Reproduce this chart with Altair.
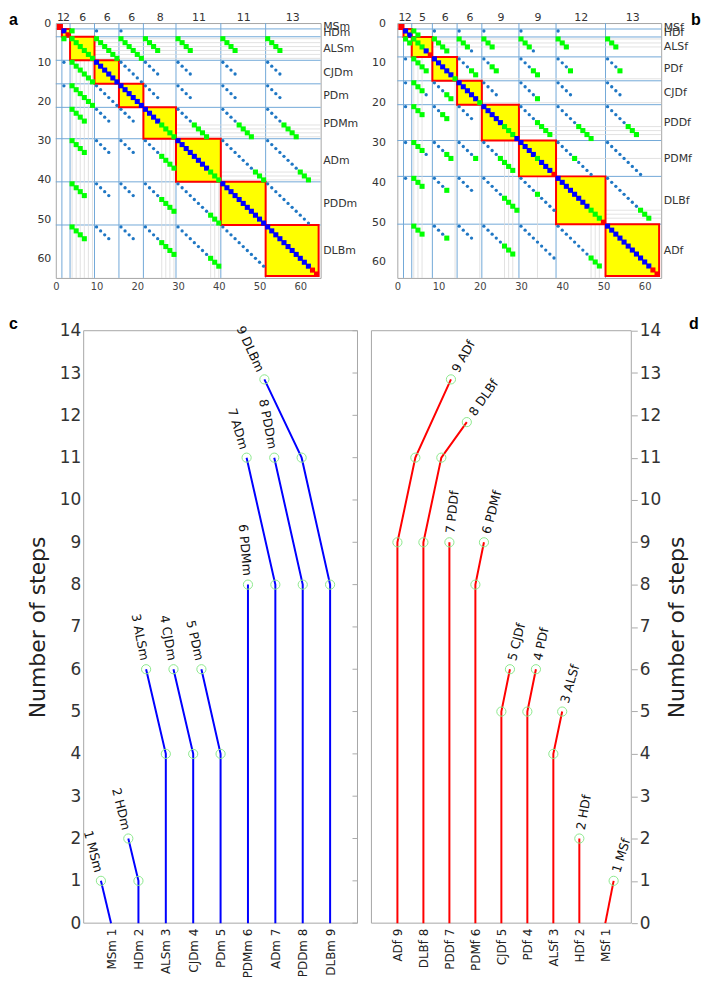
import json
import altair as alt
import pandas as pd

FONT = "DejaVu Sans"
LFONT = "Liberation Sans"

# ---------------- panel a (male) ----------------
a_groups = ["MSm", "HDm", "ALSm", "CJDm", "PDm", "PDMm", "ADm", "PDDm", "DLBm"]
a_sizes = [1, 2, 6, 6, 6, 8, 11, 11, 13]
a_diag = ["R", "BR", "GGGGGG", "BBBBBB", "BBBBBB", "BBBBGGGG",
          "BBBBBBBBGGG", "BBBBBBBBBBB", "BBBBBBBBBBBRR"]
a_link_row = [1, 1, 1, 2, 2, 2, 2, 2, 2, 3, 3, 3, 3, 3, 4, 4, 4, 4, 5, 5, 5, 6, 6, 7]
a_link_col = [2, 3, 4, 3, 4, 5, 6, 7, 8, 4, 5, 6, 7, 8, 5, 6, 7, 8, 6, 7, 8, 7, 8, 8]
a_link_pat = ["G", "B", "B",
              "GGGGGG", "GGGGGG", "GGGG", "GGGG", "GGGG", "GGGG",
              "BBBBBB", "BBBB", "BBBB", "BBBB", "BBBB",
              "BBBB", "BBBB", "BBBB", "BBBB",
              "BBBBGGGG", "BBBBGGGG", "BBBBGGGG",
              "BBBBBBBBGGG", "BBBBBBBBGGG",
              "BBBBBBBBBBB"]

# ---------------- panel b (female) ----------------
b_groups = ["MSf", "HDf", "ALSf", "PDf", "CJDf", "PDDf", "PDMf", "DLBf", "ADf"]
b_sizes = [1, 2, 5, 6, 6, 9, 9, 12, 13]
b_diag = ["R", "BB", "GGGBR", "BBBBBG", "BBBBBG", "BBBBBGGGB", "BBBBGBBBR",
          "BBBBBBBBGGGR", "BBBBBBBBBBBRR"]
b_link_row = [1, 1, 1, 1, 1, 1, 2, 2, 2, 2, 2, 2, 3, 3, 3, 3, 3, 4, 4, 4, 4, 5, 5, 5, 6, 6, 7]
b_link_col = [2, 3, 4, 5, 6, 7, 3, 4, 5, 6, 7, 8, 4, 5, 6, 7, 8, 5, 6, 7, 8, 6, 7, 8, 7, 8, 8]
b_link_pat = ["GG", "B", "B", "B", "B", "B",
              "GGGG", "GGGB", "GGG", "GGGB", "GGG", "GGG",
              "BBBGG", "BBGG", "BBBGG", "BBBG", "BBBG",
              "BBBB", "BBBBG", "BBBB", "BBBB",
              "BBBBGGGG", "BBBBBGGGG", "BBBBBGGG",
              "BBBBGBBBB", "BBBBBBBBB",
              "BBBBBBBBGGG"]

# ---------------- panel c (male steps) ----------------
c_names = ["MSm", "HDm", "ALSm", "CJDm", "PDm", "PDMm", "ADm", "PDDm", "DLBm"]
c_x = [[1, 0.63], [2, 2, 1.63], [3, 3, 2.28], [4, 4, 3.28], [5, 5, 4.3],
       [6, 6], [7, 7, 5.95], [8, 8, 6.96], [9, 9, 7.96, 6.6]]
c_y = [[0, 1], [0, 1, 2], [0, 4, 6], [0, 4, 6], [0, 4, 6],
       [0, 8], [0, 8, 11], [0, 8, 11], [0, 8, 11, 12.85]]
c_label_angle = [75, 76, 79, 80, 77, 85, 73, 79, 65]

# ---------------- panel d (female steps) ----------------
d_names = ["MSf", "HDf", "ALSf", "PDf", "CJDf", "PDMf", "PDDf", "DLBf", "ADf"]
d_x = [[9, 9.32], [8, 8], [7, 7, 7.34], [6, 6, 6.33], [5, 5, 5.33],
       [4, 4, 4.33], [3, 3], [2, 2, 2.69, 3.67], [1, 1, 1.69, 3.06]]
d_y = [[0, 1], [0, 2], [0, 4, 5], [0, 5, 6], [0, 5, 6],
       [0, 8, 9], [0, 9], [0, 9, 11, 11.84], [0, 9, 11, 12.85]]
d_label_angle = [287, 280, 286, 282, 284, 285, 276, 305, 299]


def letter_layer(letter, x, y):
    return alt.Chart(pd.DataFrame({"t": [letter]})).mark_text(
        align="left", baseline="top", fontSize=16, fontWeight="bold",
        font=LFONT, color="#000000").encode(
        x=alt.value(x), y=alt.value(y), text="t:N")


def matrix_panel(groups, sizes, diag, lrow, lcol, lpat, letter, letter_x, W, H, ylabpad):
    n = sum(sizes)
    dmax = n + 1
    starts, s = [], 1
    for size in sizes:
        starts.append(s)
        s += size
    ends = [st + size - 1 for st, size in zip(starts, sizes)]
    centers = [(st + en) / 2 for st, en in zip(starts, ends)]
    kind = {"B": "blue", "G": "green", "R": "red"}
    pts, greens = [], []
    for g, pat in enumerate(diag):
        for k, ch in enumerate(pat):
            v = starts[g] + k
            pts.append({"c": v, "r": v, "t": kind[ch]})
            if ch == "G":
                greens.append(v)
    for i, j, pat in zip(lrow, lcol, lpat):
        for k, ch in enumerate(pat):
            t = "green" if ch == "G" else "dot"
            pts.append({"c": starts[j] + k, "r": starts[i] + k, "t": t})
            pts.append({"c": starts[i] + k, "r": starts[j] + k, "t": t})
    pdf = pd.DataFrame(pts)
    bdf = pd.DataFrame({"b": [st - 0.5 for st in starts[1:]]})
    gdf = pd.DataFrame({"p": greens, "e": [dmax] * len(greens)})
    rdf = pd.DataFrame({"x0": [st - 0.5 for st in starts],
                        "x1": [en + 0.5 for en in ends]})

    xs = alt.Scale(domain=[0, dmax], nice=False, zero=False)
    ys = alt.Scale(domain=[0, dmax], nice=False, zero=False, reverse=True)

    size_labels = [str(v) for v in sizes]
    top_expr = f"{json.dumps(size_labels)}[indexof({json.dumps(centers)}, datum.value)]"
    right_expr = f"{json.dumps(groups)}[indexof({json.dumps(centers)}, datum.value)]"

    top_axis = alt.Axis(orient="top", values=centers, labelExpr=top_expr, ticks=False,
                        domain=False, grid=False, labelPadding=1, labelFontSize=11,
                        labelColor="#333333", labelOverlap=False, labelFlush=False, title=None)
    right_axis = alt.Axis(orient="right", values=centers, labelExpr=right_expr, ticks=False,
                          domain=False, grid=False, labelPadding=2, labelFontSize=11,
                          labelColor="#333333", labelOverlap=False, labelFlush=False, title=None)
    bottom_axis = alt.Axis(orient="bottom", values=list(range(0, n + 1, 10)), ticks=False,
                           domain=False, grid=False, labelPadding=4, labelFontSize=10,
                           labelColor="#444444", labelFlush=False, title=None)
    left_axis = alt.Axis(orient="left", values=list(range(0, n + 1, 10)), ticks=False,
                         domain=False, grid=False, labelPadding=ylabpad, labelFontSize=11,
                         labelColor="#333333", labelFlush=False, title=None)

    line_col = "#72a8d8"
    vr = alt.Chart(bdf).mark_rule(color=line_col, strokeWidth=1).encode(
        x=alt.X("b:Q", scale=xs, axis=None))
    hr = alt.Chart(bdf).mark_rule(color=line_col, strokeWidth=1).encode(
        y=alt.Y("b:Q", scale=ys, axis=None))
    gv = alt.Chart(gdf).mark_rule(color="#dadada", strokeWidth=0.8).encode(
        x=alt.X("p:Q", scale=xs, axis=None), y=alt.Y("p:Q", scale=ys, axis=None), y2="e:Q")
    gh = alt.Chart(gdf).mark_rule(color="#dadada", strokeWidth=0.8).encode(
        y=alt.Y("p:Q", scale=ys, axis=None), x=alt.X("p:Q", scale=xs, axis=None), x2="e:Q")
    rect = alt.Chart(rdf).mark_rect(fill="#ffff00", stroke="#ff0000", strokeWidth=2).encode(
        x=alt.X("x0:Q", scale=xs, axis=top_axis), x2="x1:Q",
        y=alt.Y("x0:Q", scale=ys, axis=right_axis), y2="x1:Q")
    dots = alt.Chart(pdf).transform_filter(alt.datum.t == "dot").mark_circle(
        size=11, color="#1f77c4", opacity=1).encode(
        x=alt.X("c:Q", scale=xs, axis=None), y=alt.Y("r:Q", scale=ys, axis=None))
    sq = alt.Chart(pdf).transform_filter(alt.datum.t != "dot").mark_square(
        size=26, opacity=1).encode(
        x=alt.X("c:Q", scale=xs, axis=bottom_axis),
        y=alt.Y("r:Q", scale=ys, axis=left_axis),
        color=alt.Color("t:N", scale=alt.Scale(domain=["blue", "green", "red"],
                                               range=["#0000ff", "#00ff00", "#ff0000"]),
                        legend=None))
    let = letter_layer(letter, letter_x, -11)
    return alt.layer(vr, hr, gv, gh, rect, dots, sq, let).resolve_axis(
        x="independent", y="independent").properties(width=W, height=H)


def tree_panel(names, px, py, angles, color, side, letter, letter_x, W, H, shift):
    line_rows, pt_rows, lab_rows = [], [], []
    pos_labels = {}
    for i, (nm, xv, yv, ang) in enumerate(zip(names, px, py, angles)):
        num = i + 1
        pos_labels[int(round(xv[0]))] = f"{nm} {num}"
        for k, (x, y) in enumerate(zip(xv, yv)):
            line_rows.append({"s": nm, "k": k, "x": x, "y": y})
            if k > 0:
                pt_rows.append({"x": x, "y": y})
        lab_rows.append({"x": xv[-1], "y": yv[-1], "label": f"{num} {nm}", "ang": ang})
    axis_labels = [pos_labels[p] for p in range(1, 10)]
    ldf, pdf, tdf = pd.DataFrame(line_rows), pd.DataFrame(pt_rows), pd.DataFrame(lab_rows)
    frame_df = pd.DataFrame({"x0": [0], "x1": [10], "y0": [0], "y1": [14]})

    total_w = W + shift
    xsc = alt.Scale(domain=[0, 10], range=[shift, total_w], nice=False, zero=False)
    ysc = alt.Scale(domain=[0, 14], nice=False, zero=False)
    x_axis = alt.Axis(orient="bottom", values=list(range(1, 10)),
                      labelExpr=f"{json.dumps(axis_labels)}[datum.value - 1]",
                      labelAngle=270, labelAlign="right", labelBaseline="middle",
                      labelPadding=5, labelFontSize=12, labelColor="#222222",
                      ticks=False, domain=False, grid=False, title=None,
                      labelOverlap=False, labelFlush=False)
    if side == "left":
        y_axis = alt.Axis(orient="left", offset=-shift, values=list(range(15)),
                          title="Number of steps",
                          titleFontSize=22, titleFontWeight="normal", titleColor="#222222",
                          titlePadding=10, labelFontSize=17, labelColor="#333333",
                          labelPadding=3, ticks=False, domain=False, grid=False)
    else:
        y_axis = alt.Axis(orient="right", values=list(range(15)), title="Number of steps",
                          titleFontSize=22, titleFontWeight="normal", titleColor="#222222",
                          titleAngle=270, titleBaseline="top", titlePadding=6,
                          labelFontSize=17, labelColor="#333333", labelPadding=2,
                          ticks=True, tickSize=6, tickColor="#aaaaaa", domain=False, grid=False)

    frame = alt.Chart(frame_df).mark_rect(fill="transparent", stroke="#a6a6a6",
                                          strokeWidth=1).encode(
        x=alt.X("x0:Q", scale=xsc, axis=None), x2="x1:Q",
        y=alt.Y("y0:Q", scale=ysc, axis=None), y2="y1:Q")
    lines = alt.Chart(ldf).mark_line(color=color, strokeWidth=2).encode(
        x=alt.X("x:Q", scale=xsc, axis=x_axis), y=alt.Y("y:Q", scale=ysc, axis=y_axis),
        detail="s:N", order="k:Q")
    pts = alt.Chart(pdf).mark_point(shape="circle", filled=False, size=85,
                                    color="#8ce88c", strokeWidth=1, opacity=1).encode(
        x=alt.X("x:Q", scale=xsc, axis=None), y=alt.Y("y:Q", scale=ysc, axis=None))
    labs = alt.Chart(tdf).mark_text(
        align="right" if side == "left" else "left", baseline="middle",
        dx=-9 if side == "left" else 9, fontSize=12.5, font=FONT, color="#111111").encode(
        x=alt.X("x:Q", scale=xsc, axis=None), y=alt.Y("y:Q", scale=ysc, axis=None),
        text="label:N", angle=alt.Angle("ang:Q", scale=None))
    layers = [frame, lines, pts, labs]
    if side == "left":
        tick_df = pd.DataFrame({"y": list(range(15))})
        layers.append(alt.Chart(tick_df).mark_rule(color="#aaaaaa", strokeWidth=1).encode(
            y=alt.Y("y:Q", scale=ysc, axis=None), x=alt.value(total_w - 5),
            x2=alt.value(total_w)))
    layers.append(letter_layer(letter, letter_x, -15))
    return alt.layer(*layers).resolve_axis(x="independent", y="independent").properties(
        width=total_w, height=H, view=alt.ViewBackground(stroke="transparent"))


a_chart = matrix_panel(a_groups, a_sizes, a_diag, a_link_row, a_link_col, a_link_pat,
                       "a", -47, 266, 256, 5)
b_chart = matrix_panel(b_groups, b_sizes, b_diag, b_link_row, b_link_col, b_link_pat,
                       "b", 295, 265, 256, 12)
c_chart = tree_panel(c_names, c_x, c_y, c_label_angle, "#0000ff", "left", "c", -47,
                     275, 595, 28)
d_chart = tree_panel(d_names, d_x, d_y, d_label_angle, "#ff0000", "right", "d", 319,
                     261, 595, 0)

row1 = alt.hconcat(a_chart, b_chart, spacing=12)
row2 = alt.hconcat(c_chart, d_chart, spacing=12)
chart = alt.vconcat(row1, row2, spacing=22).properties(padding=0).configure_view(
    stroke="#a6a6a6", strokeWidth=1).configure_axis(labelFont=FONT, titleFont=FONT)

chart.save("out.html", embed_options={"renderer": "svg", "actions": False})
